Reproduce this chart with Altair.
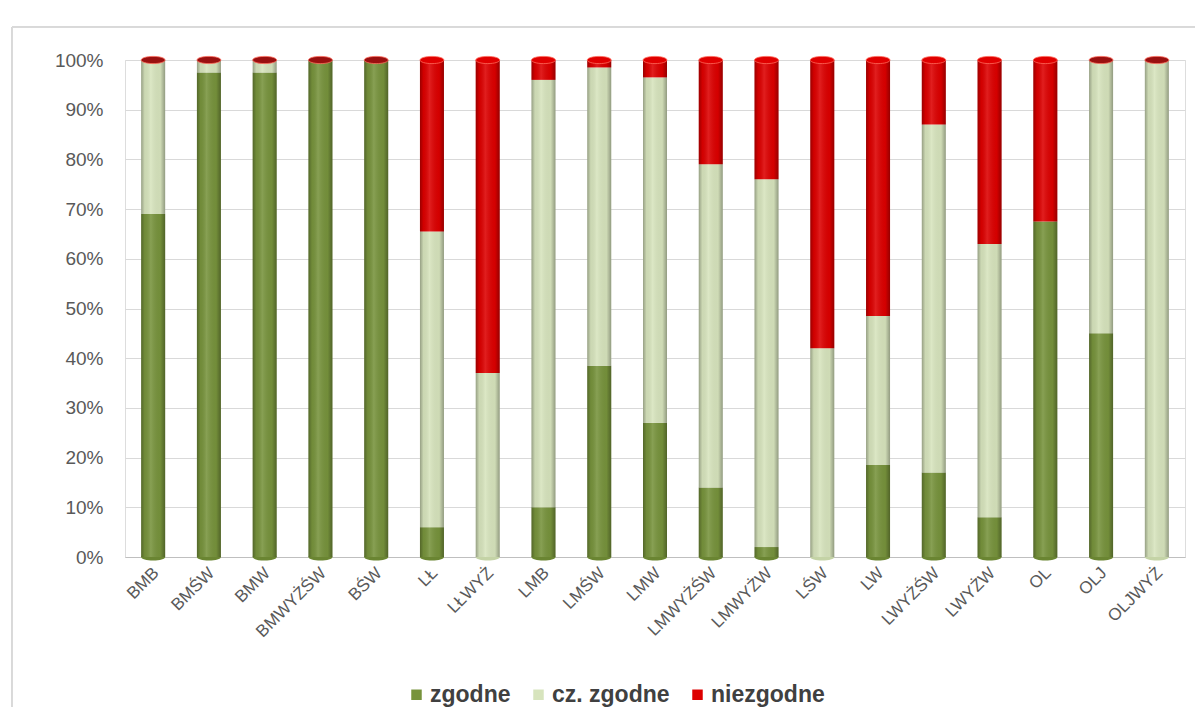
import altair as alt
import pandas as pd

categories = ["BMB", "BMŚW", "BMW", "BMWYŻŚW", "BŚW", "LŁ", "LŁWYŻ", "LMB", "LMŚW",
              "LMW", "LMWYŻŚW", "LMWYŻW", "LŚW", "LW", "LWYŻŚW", "LWYŻW", "OL", "OLJ", "OLJWYŻ"]
zgodne =      [69.0, 97.5, 97.5, 100.0, 100.0, 6.0, 0.0, 10.0, 38.5, 27.0, 14.0, 2.0, 0.0, 18.5, 17.0, 8.0, 67.5, 45.0, 0.0]
cz_zgodne =   [31.0, 2.5, 2.5, 0.0, 0.0, 59.5, 37.0, 86.0, 60.0, 69.5, 65.0, 74.0, 42.0, 30.0, 70.0, 55.0, 0.0, 55.0, 100.0]
niezgodne =   [0.0, 0.0, 0.0, 0.0, 0.0, 34.5, 63.0, 4.0, 1.5, 3.5, 21.0, 24.0, 58.0, 51.5, 13.0, 37.0, 32.5, 0.0, 0.0]
series = ["zgodne", "cz. zgodne", "niezgodne"]
colors = ["#77933C", "#D7E4BD", "#DD0000"]

rows = []
for i, c in enumerate(categories):
    for k, (s, vals) in enumerate(zip(series, [zgodne, cz_zgodne, niezgodne])):
        rows.append({"kat": c, "seria": s, "ord": k, "val": vals[i] / 100.0})
df = pd.DataFrame(rows)
tot = pd.DataFrame({"kat": categories,
                    "total": [(a + b + c) / 100.0 for a, b, c in zip(zgodne, cz_zgodne, niezgodne)],
                    "zero": [0.0] * len(categories),
                    "cap": ["#E00000" if n > 0 else "#9A1010" for n in niezgodne],
                    "base": ["#6A8532" if z > 0 else ("#C4D3A6" if c > 0 else "#C00000")
                             for z, c in zip(zgodne, cz_zgodne)]})

FONT = "Liberation Sans"
xenc = alt.X("kat:N", sort=categories, title=None,
             scale=alt.Scale(paddingInner=0.55, paddingOuter=0.28),
             axis=alt.Axis(labelAngle=-45, labelAlign="right", labelBaseline="middle",
                           labelFontSize=17, labelColor="#595959", labelFont=FONT,
                           ticks=False, domainColor="#BFBFBF", labelPadding=13,
                           labelOffset=3, grid=False))

bars = alt.Chart(df).mark_bar(size=24).encode(
    x=xenc,
    y=alt.Y("val:Q", stack="zero", title=None,
            scale=alt.Scale(domain=[0, 1], nice=False),
            axis=alt.Axis(format=".0%", values=[i / 10 for i in range(11)],
                          labelFontSize=19, labelColor="#595959", labelFont=FONT,
                          ticks=False, domain=False, gridColor="#D9D9D9",
                          labelPadding=22)),
    color=alt.Color("seria:N", sort=series,
                    scale=alt.Scale(domain=series, range=colors),
                    legend=alt.Legend(title=None, orient="none", direction="horizontal",
                                      legendX=280, legendY=623, symbolType="square",
                                      symbolSize=110, symbolStrokeWidth=0,
                                      labelFontSize=23, labelFontWeight="bold",
                                      labelColor="#404040", labelFont=FONT,
                                      columnPadding=16, symbolOffset=0, labelOffset=2)),
    order=alt.Order("ord:Q"),
)

shade = alt.Chart(tot).mark_bar(
    size=24,
    color=alt.Gradient(gradient="linear", x1=0, x2=1, y1=0, y2=0,
                       stops=[alt.GradientStop(color="rgba(0,0,0,0.30)", offset=0),
                              alt.GradientStop(color="rgba(0,0,0,0.05)", offset=0.15),
                              alt.GradientStop(color="rgba(255,255,255,0.12)", offset=0.40),
                              alt.GradientStop(color="rgba(0,0,0,0.04)", offset=0.8),
                              alt.GradientStop(color="rgba(0,0,0,0.32)", offset=1)])
).encode(x=alt.X("kat:N", sort=categories), y=alt.Y("total:Q"))

ellipse = "M -1 0 A 1 0.3 0 1 1 1 0 A 1 0.3 0 1 1 -1 0 Z"
caps = alt.Chart(tot).mark_point(shape=ellipse, size=576, filled=True, opacity=1,
                                 stroke="#FF6A5A", strokeWidth=0.8).encode(
    x=alt.X("kat:N", sort=categories), y=alt.Y("total:Q"),
    fill=alt.Fill("cap:N", scale=None))

bottoms = alt.Chart(tot).mark_point(shape=ellipse, size=576, filled=True, opacity=1,
                                    strokeWidth=0).encode(
    x=alt.X("kat:N", sort=categories), y=alt.Y("zero:Q"),
    fill=alt.Fill("base:N", scale=None))

frame = alt.Chart(tot).mark_rect(fill=None, stroke="#D9D9D9", strokeWidth=1).encode(
    x=alt.value(-113), x2=alt.value(1072), y=alt.value(-33), y2=alt.value(700))

chart = alt.layer(frame, bottoms, bars, shade, caps).properties(
    width=1060, height=497,
    autosize=alt.AutoSizeParams(type="none"),
    padding={"left": 117, "top": 52, "right": 10, "bottom": 150},
).configure_view(stroke=None).configure(background="white")

chart.save("out.html", embed_options={"renderer": "svg", "actions": False})
